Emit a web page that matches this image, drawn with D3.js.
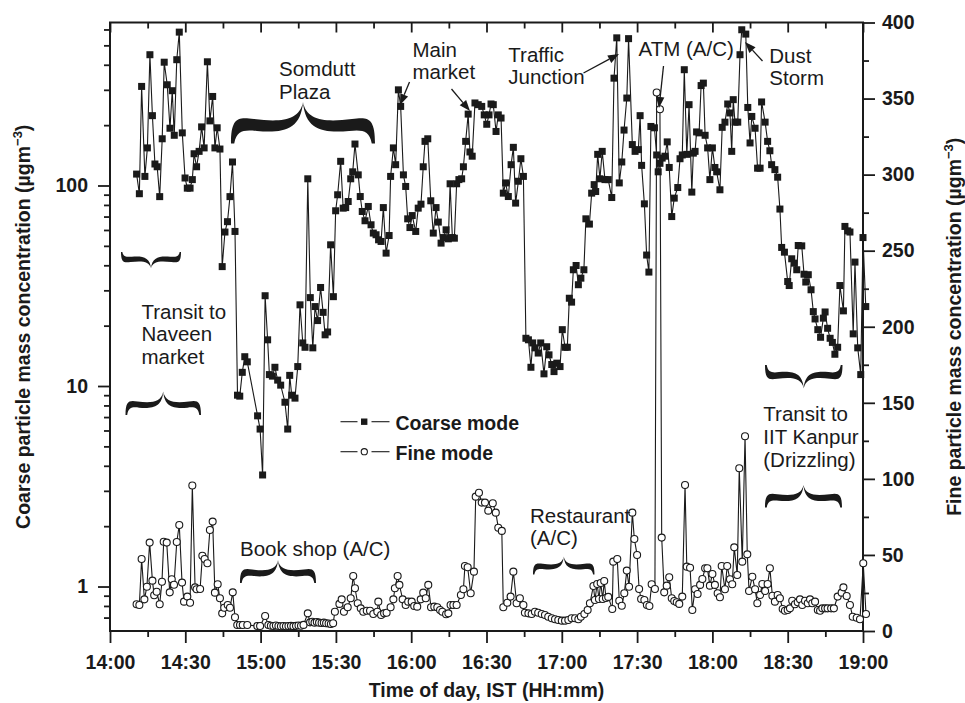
<!DOCTYPE html>
<html>
<head>
<meta charset="utf-8">
<script src="https://cdn.jsdelivr.net/npm/d3@7"></script>
<style>
  html, body { margin: 0; padding: 0; background: #fff; }
  svg { display: block; }
  text { font-family: "Liberation Sans", Arial, sans-serif; fill: #1a1a1a; }
</style>
</head>
<body>
<svg id="chart" width="965" height="703"></svg>
<script>
// Coarse-mode mass concentration: [minutes after 14:00, µg/m³]
const coarse = [
[10.6,114],[11.7,91],[12.6,312],[13.9,111],[14.9,154],[15.9,449],[16.9,223],[17.9,128],[18.8,124],[19.8,88],
[20.8,171],[21.6,412],[22.8,318],[23.9,193],[24.8,297],[25.6,178],[26.6,424],[27.6,582],[28.8,183],[29.9,109],
[30.8,97],[31.9,97],[32.8,107],[33.5,144],[34.5,124],[35.5,148],[36.5,196],[37.5,154],[38.8,414],[39.8,210],
[40.9,278],[41.8,154],[42.7,194],[43.8,152],[44.7,39.4],[45.8,58.6],[46.8,66],[47.8,88],[48.8,131],[49.8,59],
[50.8,9.0],[51.7,8.9],[52.7,11.7],[53.7,14.0],[54.7,13.2],[58.8,7.1],[59.8,6.1],[60.8,3.6],[61.8,28.2],[62.8,17.0],
[63.5,11.4],[64.7,11.2],[65.7,12.4],[66.8,10.7],[68.0,10.1],[69.7,8.3],[70.8,6.1],[71.6,11.3],[72.4,9.0],[73.7,8.7],
[74.8,12.5],[75.7,25.4],[76.8,16.4],[77.7,15.6],[78.8,108],[79.8,27.6],[80.8,15.5],[81.7,24.9],[82.7,21.2],[83.9,31.0],
[84.9,23.3],[85.7,18.0],[86.7,18.6],[87.9,50.6],[89.0,27.9],[89.9,74.8],[90.7,89.9],[91.9,132],[92.9,77.1],[93.9,77.6],
[94.9,83.2],[95.9,108],[96.7,117],[97.6,161],[98.9,113],[99.7,88.1],[100.5,74.2],[101.6,66.7],[102.9,78.6],[104.0,63.7],
[104.9,57.9],[106.0,56.8],[107.0,53.6],[108.0,52.6],[108.9,77.6],[110.0,46.0],[111.2,56.3],[111.8,111],[112.9,154],[113.8,127],
[114.9,300],[115.8,248],[116.9,113],[117.8,98.9],[118.6,68.2],[119.5,61.7],[120.4,70.8],[121.8,59.0],[122.8,77.1],[123.9,80.7],
[124.8,124],[125.5,166],[126.6,171],[127.8,83.9],[128.8,57.9],[129.9,77.6],[130.8,65.7],[131.9,51.6],[132.8,55.0],[133.9,60.1],
[134.8,54.2],[135.5,102],[136.4,55.0],[137.2,54.6],[138.1,102],[139.0,107],[140.1,108],[140.8,124],[141.7,166],[142.7,227],
[143.4,147],[144.3,140],[145.4,258],[146.7,253],[148.1,248],[149.1,225],[150.1,202],[151.0,225],[151.8,255],[152.7,253],
[153.8,186],[154.7,225],[155.8,217],[156.7,91.6],[157.6,103],[158.7,88.1],[159.8,127],[160.7,155],[161.6,81.7],[162.7,105],
[163.7,136],[164.7,111],[165.7,17.3],[166.7,17.0],[167.7,12.4],[168.4,16.4],[169.3,15.5],[170.6,14.6],[171.6,16.4],[172.9,11.5],
[174.0,15.7],[174.9,14.3],[176.0,12.8],[176.9,11.8],[178.0,13.0],[179.3,12.5],[180.2,19.1],[181.3,15.6],[182.2,15.6],[183.0,27.4],
[183.9,26.2],[184.6,38.0],[185.7,39.9],[186.6,32.0],[187.6,34.5],[188.8,38.0],[189.6,68.2],[191.0,64.2],[191.9,91.6],[192.9,101],
[193.5,93.3],[194.3,143],[195.2,108],[196.1,148],[197.2,107],[198.5,107],[199.9,87.1],[200.8,343],[201.9,545],[202.9,103],
[203.9,131],[204.8,189],[205.9,273],[206.6,540],[208.1,160],[209.2,148],[210.5,151],[211.2,223],[211.8,126],[212.9,81],
[213.8,45],[214.7,37],[215.5,197],[216.9,194],[217.8,142],[218.4,117],[219.1,129],[220.0,137],[221.1,140],[222.0,165],
[222.8,123],[223.8,70],[224.8,86.5],[226.2,97.7],[227.1,136],[228.0,142],[228.8,378],[229.8,143],[230.7,253],[231.8,92.7],
[232.4,145],[233.1,148],[233.7,185],[234.7,183],[235.5,315],[236.4,324],[237.1,178],[238.1,154],[239.0,107],[240.0,154],
[241.0,123],[241.7,117],[243.0,95.2],[243.9,195],[245.0,207],[246.1,255],[247.0,230],[247.7,148],[248.3,268],[249.0,207],
[250.1,207],[251.0,449],[251.7,598],[253.3,569],[254.1,245],[255.0,163],[255.7,221],[257.0,193],[258.0,122],[259.0,122],
[259.6,261],[261.0,207],[262.0,166],[262.9,149],[263.6,127],[264.9,120],[266.0,110],[266.9,76.3],[267.6,49.1],[268.7,46.5],
[270.0,33.2],[270.6,31.7],[271.6,43.1],[272.6,41.0],[273.6,38.0],[274.2,50.2],[275.6,50.0],[276.5,36.1],[277.2,33.0],[278.2,35.9],
[279.3,30.2],[280.2,23.5],[280.9,21.6],[282.0,19.1],[283.1,17.5],[284.2,21.8],[284.9,23.4],[285.9,19.4],[286.9,17.3],[287.8,16.5],
[288.8,14.4],[289.9,15.6],[290.8,31.7],[292.2,23.7],[292.8,62.5],[293.9,59.4],[294.8,58.6],[296.1,18.2],[296.8,41.5],[297.9,15.5],
[299.1,11.4],[300.0,55.0],[301.1,24.9]
];

// Fine-mode mass concentration: [minutes after 14:00, µg/m³]
const fine = [
[10.6,17.6],[11.7,17.1],[12.6,47.3],[13.7,20.8],[14.7,29.1],[15.8,58.1],[16.9,33.1],[17.6,23.5],[18.6,25.8],[19.8,17.6],
[20.7,32.4],[21.4,58.7],[22.6,58.1],[23.8,25.4],[24.6,34.0],[25.5,30.4],[26.6,58.5],[27.6,69.7],[28.7,31.8],[29.5,19.3],
[30.8,22.6],[31.9,18.6],[32.8,95.6],[33.9,28.7],[34.5,27.4],[35.9,27.6],[36.8,49.5],[37.7,47.3],[38.8,44.5],[39.8,66.4],
[40.9,71.9],[41.8,25.2],[42.9,30.7],[43.8,21.5],[44.7,11.6],[45.5,15.3],[46.9,17.1],[47.8,15.3],[48.9,25.4],[49.8,9.0],
[50.7,3.9],[51.8,3.9],[52.9,3.9],[54.7,3.9],[58.7,3.3],[59.8,3.3],[61.8,9.9],[63.1,3.9],[64.1,3.5],[65.1,3.3],
[66.1,3.6],[67.1,3.3],[68.1,3.1],[69.1,3.3],[70.1,3.1],[71.1,3.3],[72.1,3.4],[73.1,3.2],[74.1,3.4],[75.1,3.6],
[76.1,3.5],[77.1,4.0],[78.8,11.6],[79.7,5.7],[80.6,6.1],[81.5,5.5],[82.4,5.9],[83.3,5.5],[84.3,5.3],[85.2,5.5],
[86.1,5.1],[87.1,4.9],[88.0,4.6],[88.9,5.1],[89.6,12.7],[91.4,17.8],[92.3,20.8],[93.2,12.7],[94.7,15.6],[95.9,21.5],
[96.9,36.2],[97.6,28.1],[98.7,18.2],[99.9,14.9],[100.9,12.7],[102.3,13.3],[103.6,13.3],[104.9,11.2],[106.5,12.7],[106.9,19.3],
[108.0,10.5],[109.2,11.6],[110.2,12.0],[111.8,15.6],[112.9,20.8],[113.5,28.1],[114.6,36.2],[115.3,30.3],[116.6,20.8],[117.8,17.1],
[118.8,19.3],[120.2,19.3],[121.2,16.4],[122.4,16.0],[123.8,20.8],[124.8,25.2],[125.8,21.5],[126.8,30.3],[127.9,15.6],[129.2,16.0],
[130.4,15.6],[131.5,13.8],[132.4,12.7],[133.9,11.0],[134.8,11.6],[135.7,17.1],[136.8,17.1],[138.1,17.1],[139.8,23.7],[140.8,27.4],
[141.4,42.7],[142.5,41.9],[143.7,24.8],[145.0,39.0],[145.7,88.3],[147.0,90.9],[148.1,84.4],[149.4,84.4],[150.7,79.1],[152.5,84.0],
[153.7,77.8],[154.7,67.9],[156.1,65.8],[156.7,15.6],[158.3,18.6],[159.6,22.6],[160.7,39.0],[162.0,18.2],[163.3,21.5],[164.7,17.1],
[165.3,12.0],[166.7,11.6],[168.0,11.2],[169.3,12.7],[170.6,12.0],[172.0,11.2],[173.3,10.5],[174.6,9.4],[176.0,8.4],[177.3,7.7],
[178.6,7.2],[180.0,6.8],[181.3,6.8],[182.6,7.2],[183.9,8.4],[185.3,8.4],[186.6,7.7],[187.6,9.4],[189.0,11.2],[190.3,13.8],
[191.2,18.2],[192.6,29.6],[193.2,20.4],[194.1,30.9],[194.8,21.0],[195.5,31.6],[196.3,21.0],[196.9,32.9],[197.6,21.7],[198.5,22.4],
[200.1,14.5],[200.5,45.6],[202.1,47.3],[202.9,19.9],[203.9,16.6],[204.9,24.8],[205.9,39.7],[206.8,29.1],[208.1,77.8],[208.9,60.5],
[210.0,50.0],[210.8,27.6],[211.6,21.0],[212.9,20.4],[213.9,17.1],[214.9,16.4],[215.8,30.7],[217.1,27.6],[217.8,354],[219.1,343],
[219.8,61.4],[220.8,25.4],[221.8,29.8],[222.8,35.3],[223.8,21.5],[224.8,19.7],[225.8,18.9],[226.8,17.8],[228.0,22.6],[229.1,96.0],
[229.8,42.3],[231.1,41.6],[232.0,13.8],[233.1,27.4],[234.1,24.3],[235.1,30.3],[236.0,34.2],[237.1,41.2],[238.0,41.2],[239.0,29.8],
[240.0,37.5],[241.0,30.3],[242.1,24.8],[243.0,22.2],[243.7,42.7],[245.0,27.4],[245.9,42.7],[247.0,34.0],[247.9,30.7],[248.7,55.0],
[249.9,36.8],[250.7,107],[251.9,45.6],[253.0,128],[253.9,50.4],[254.6,26.3],[255.9,35.7],[257.0,27.4],[257.9,18.2],[259.0,23.7],
[259.9,30.9],[261.0,26.3],[262.0,30.9],[262.9,41.2],[263.9,23.2],[264.9,19.3],[266.0,23.7],[266.9,21.5],[268.0,14.5],[268.9,13.3],
[270.0,13.8],[270.9,14.9],[271.8,19.9],[272.9,17.6],[274.0,18.9],[274.9,20.8],[275.8,17.1],[276.9,19.9],[278.0,18.2],[278.9,20.8],
[279.8,18.2],[280.9,19.3],[282.0,13.8],[282.9,13.3],[283.8,14.9],[284.9,14.9],[285.9,14.9],[287.3,14.9],[288.4,14.9],[289.9,22.6],
[291.5,25.2],[292.2,28.7],[293.5,23.0],[294.8,17.1],[295.9,9.4],[297.5,8.7],[298.8,7.7],[300.1,44.5],[301.2,11.2]
];

// Axis tick values
const timeTicks = ["14:00","14:30","15:00","15:30","16:00","16:30","17:00","17:30","18:00","18:30","19:00"];
const timeMinorTicks = ["14:15","14:45","15:15","15:45","16:15","16:45","17:15","17:45","18:15","18:45"];
const coarseTicks = [1, 10, 100];
const coarseMinorTicks = [0.7,0.8,0.9,2,3,4,5,6,7,8,9,20,30,40,50,60,70,80,90,200,300,400,500,600];
const fineTicks = [0,50,100,150,200,250,300,350,400];
const fineMinorTicks = [25,75,125,175,225,275,325,375];

// Annotations: text lines, braces and arrows
const labels = [
  { lines: ["Transit to","Naveen","market"], x: 141.5, y: 318.5 },
  { lines: ["Somdutt","Plaza"], x: 279, y: 76 },
  { lines: ["Main","market"], x: 412.5, y: 56.5 },
  { lines: ["Traffic","Junction"], x: 508.3, y: 61.5 },
  { lines: ["ATM (A/C)"], x: 638.5, y: 55.5 },
  { lines: ["Dust","Storm"], x: 769.3, y: 62.5 },
  { lines: ["Book shop (A/C)"], x: 240, y: 556 },
  { lines: ["Restaurant","(A/C)"], x: 530, y: 522.5 },
  { lines: ["Transit to","IIT Kanpur","(Drizzling)"], x: 763.3, y: 421 }
];
const braces = [
  { x1: 121, x2: 181, yEnd: 252, yTip: 268.5, w: 4.5 },
  { x1: 125.5, x2: 201, yEnd: 415, yTip: 391.5, w: 5 },
  { x1: 231, x2: 375, yEnd: 143.5, yTip: 102, w: 10 },
  { x1: 240, x2: 316, yEnd: 583, yTip: 560, w: 5.5 },
  { x1: 533, x2: 594.5, yEnd: 574.5, yTip: 556.5, w: 4.5 },
  { x1: 765, x2: 842.5, yEnd: 365, yTip: 388.5, w: 5.5 },
  { x1: 765, x2: 842, yEnd: 507.5, yTip: 485, w: 5.5 }
];
const arrows = [
  { from: [409.5, 82], to: [400, 105] },
  { from: [451.5, 89], to: [470, 111] },
  { from: [583.5, 73], to: [619, 54] },
  { from: [663.5, 66], to: [659, 108] },
  { from: [762.5, 61], to: [745, 42] }
];

const svg = d3.select("#chart");
const plot = { left: 110, right: 863, top: 22.5, bottom: 631 };
const ink = "#1a1a1a";
const tickFont = { size: "19.5px", weight: "bold" };

const day = new Date(2000, 0, 1, 14, 0, 0);
const atMinute = m => new Date(day.getTime() + m * 60000);
const parseClock = d3.timeParse("%H:%M");
const clock = s => { const d = parseClock(s); return new Date(2000, 0, 1, d.getHours(), d.getMinutes()); };

const x = d3.scaleTime().domain([clock("14:00"), clock("19:00")]).range([plot.left, plot.right]);
const yCoarse = d3.scaleLog().domain([0.6, 650]).range([plot.bottom, plot.top]);
const yFine = d3.scaleLinear().domain([0, 400]).range([plot.bottom, plot.top]);

function styleAxis(g, labelled) {
  g.select(".domain").remove();
  g.selectAll(".tick line").attr("stroke", ink).attr("stroke-width", 1.8);
  if (labelled) {
    g.selectAll(".tick text")
      .attr("fill", ink)
      .style("font-size", tickFont.size)
      .style("font-weight", tickFont.weight)
      .style("font-family", '"Liberation Sans", Arial, sans-serif');
  } else {
    g.selectAll(".tick text").remove();
  }
}

// Bottom axis (outward ticks) and mirrored inward ticks along the top
svg.append("g").attr("transform", `translate(0,${plot.bottom})`)
  .call(d3.axisBottom(x).tickValues(timeTicks.map(clock)).tickFormat(d3.timeFormat("%H:%M"))
    .tickSize(12).tickPadding(12))
  .call(g => styleAxis(g, true));
svg.append("g").attr("transform", `translate(0,${plot.bottom})`)
  .call(d3.axisBottom(x).tickValues(timeMinorTicks.map(clock)).tickSize(6))
  .call(g => styleAxis(g, false));
svg.append("g").attr("transform", `translate(0,${plot.top})`)
  .call(d3.axisBottom(x).tickValues(timeTicks.map(clock)).tickSize(10))
  .call(g => styleAxis(g, false));
svg.append("g").attr("transform", `translate(0,${plot.top})`)
  .call(d3.axisBottom(x).tickValues(timeMinorTicks.map(clock)).tickSize(6))
  .call(g => styleAxis(g, false));

// Left (coarse, log) axis
svg.append("g").attr("transform", `translate(${plot.left},0)`)
  .call(d3.axisLeft(yCoarse).tickValues(coarseTicks).tickFormat(d3.format("d")).tickSize(12).tickPadding(10))
  .call(g => styleAxis(g, true));
svg.append("g").attr("transform", `translate(${plot.left},0)`)
  .call(d3.axisLeft(yCoarse).tickValues(coarseMinorTicks).tickSize(6))
  .call(g => styleAxis(g, false));

// Right (fine, linear) axis
svg.append("g").attr("transform", `translate(${plot.right},0)`)
  .call(d3.axisRight(yFine).tickValues(fineTicks).tickFormat(d3.format("d")).tickSize(12).tickPadding(7))
  .call(g => styleAxis(g, true));
svg.append("g").attr("transform", `translate(${plot.right},0)`)
  .call(d3.axisRight(yFine).tickValues(fineMinorTicks).tickSize(6))
  .call(g => styleAxis(g, false));

// Plot frame
svg.append("rect")
  .attr("x", plot.left).attr("y", plot.top)
  .attr("width", plot.right - plot.left).attr("height", plot.bottom - plot.top)
  .attr("fill", "none").attr("stroke", ink).attr("stroke-width", 2);

// Axis titles
svg.append("text")
  .attr("x", (plot.left + plot.right) / 2).attr("y", 697)
  .attr("text-anchor", "middle")
  .style("font-size", "19.5px").style("font-weight", "bold")
  .text("Time of day, IST (HH:mm)");

function unitTitle(label, tx, ty) {
  const t = svg.append("text")
    .attr("transform", `translate(${tx},${ty}) rotate(-90)`)
    .attr("text-anchor", "middle")
    .style("font-size", "19.5px").style("font-weight", "bold");
  t.append("tspan").text(label + " (\u00b5gm");
  t.append("tspan").attr("dy", -8).style("font-size", "13px").text("\u22123");
  t.append("tspan").attr("dy", 8).text(")");
}
unitTitle("Coarse particle mass concentration", 29.5, (plot.top + plot.bottom) / 2);
unitTitle("Fine particle mass concentration", 961, (plot.top + plot.bottom) / 2);

// Series
const tx = d => x(atMinute(d[0]));
const coarseLine = d3.line().x(tx).y(d => yCoarse(d[1]));
const fineLine = d3.line().x(tx).y(d => yFine(d[1]));

const series = svg.append("g");
series.append("path").datum(coarse)
  .attr("d", coarseLine).attr("fill", "none").attr("stroke", ink).attr("stroke-width", 1.1);
series.selectAll("rect.coarse").data(coarse).join("rect")
  .attr("class", "coarse")
  .attr("x", d => tx(d) - 3.5).attr("y", d => yCoarse(d[1]) - 3.5)
  .attr("width", 7).attr("height", 7).attr("fill", ink);

series.append("path").datum(fine)
  .attr("d", fineLine).attr("fill", "none").attr("stroke", ink).attr("stroke-width", 1.1);
series.selectAll("circle.fine").data(fine).join("circle")
  .attr("class", "fine")
  .attr("cx", tx).attr("cy", d => yFine(d[1]))
  .attr("r", 3.5).attr("fill", "#fff").attr("stroke", ink).attr("stroke-width", 1.1);

// Legend
const legend = svg.append("g");
[{ name: "Coarse mode", y: 421.7, mark: "square" }, { name: "Fine mode", y: 451.7, mark: "circle" }]
  .forEach(item => {
    legend.append("line").attr("x1", 340.5).attr("x2", 357.5).attr("y1", item.y).attr("y2", item.y)
      .attr("stroke", ink).attr("stroke-width", 1.1);
    legend.append("line").attr("x1", 371.5).attr("x2", 389.5).attr("y1", item.y).attr("y2", item.y)
      .attr("stroke", ink).attr("stroke-width", 1.1);
    if (item.mark === "square") {
      legend.append("rect").attr("x", 361).attr("y", item.y - 3.2).attr("width", 6.4).attr("height", 6.4).attr("fill", ink);
    } else {
      legend.append("circle").attr("cx", 364.3).attr("cy", item.y).attr("r", 3.1)
        .attr("fill", "#fff").attr("stroke", ink).attr("stroke-width", 1.1);
    }
    legend.append("text").attr("x", 395.5).attr("y", item.y + 7.8)
      .style("font-size", "19.5px").style("font-weight", "bold").text(item.name);
  });

// Annotation text
const notes = svg.append("g");
labels.forEach(l => {
  const t = notes.append("text").attr("x", l.x).attr("y", l.y).style("font-size", "20.5px");
  l.lines.forEach((s, i) => t.append("tspan").attr("x", l.x).attr("dy", i === 0 ? 0 : 22.8).text(s));
});

// Curly braces, drawn as filled outlines: each half is a swelling S-curve
// that hooks back at the end and narrows into the central point.
function bracePath(b) {
  const half = (b.x2 - b.x1) / 2, H = Math.abs(b.yTip - b.yEnd), s = b.yTip < b.yEnd ? -1 : 1;
  const lvl = 0.42, d = b.w / 2 / H;
  const outer = [[0,0],[0.0,lvl+d+0.1],[0.1,lvl+d+0.1],[0.32,lvl+d+0.05],[0.68,lvl+d-0.03],[0.95,lvl+0.12],[1,1]];
  const inner = [[0.045,0],[0.08,lvl-d+0.02],[0.18,lvl-d+0.03],[0.36,lvl-d],[0.72,lvl-d-0.05],[0.97,lvl-d+0.02],[1,1]];
  const L = p => `${(b.x1 + p[0] * half).toFixed(2)},${(b.yEnd + s * p[1] * H).toFixed(2)}`;
  const R = p => `${(b.x2 - p[0] * half).toFixed(2)},${(b.yEnd + s * p[1] * H).toFixed(2)}`;
  return `M${L(outer[0])}C${L(outer[1])} ${L(outer[2])} ${L(outer[3])}C${L(outer[4])} ${L(outer[5])} ${L(outer[6])}` +
    `C${R(outer[5])} ${R(outer[4])} ${R(outer[3])}C${R(outer[2])} ${R(outer[1])} ${R(outer[0])}` +
    `L${R(inner[0])}C${R(inner[1])} ${R(inner[2])} ${R(inner[3])}C${R(inner[4])} ${R(inner[5])} ${R(inner[6])}` +
    `C${L(inner[5])} ${L(inner[4])} ${L(inner[3])}C${L(inner[2])} ${L(inner[1])} ${L(inner[0])}Z`;
}
notes.selectAll("path.brace").data(braces).join("path")
  .attr("class", "brace").attr("d", bracePath).attr("fill", ink);

// Pointer arrows
arrows.forEach(a => {
  const [x0, y0] = a.from, [x1, y1] = a.to;
  const ang = Math.atan2(y1 - y0, x1 - x0), len = 11, wid = 4.2;
  const bx = x1 - len * Math.cos(ang), by = y1 - len * Math.sin(ang);
  notes.append("line").attr("x1", x0).attr("y1", y0).attr("x2", bx).attr("y2", by)
    .attr("stroke", ink).attr("stroke-width", 1.3);
  const px = -Math.sin(ang) * wid, py = Math.cos(ang) * wid;
  notes.append("path")
    .attr("d", `M${x1},${y1}L${bx + px},${by + py}L${bx - px},${by - py}Z`)
    .attr("fill", ink);
});
</script>
</body>
</html>
